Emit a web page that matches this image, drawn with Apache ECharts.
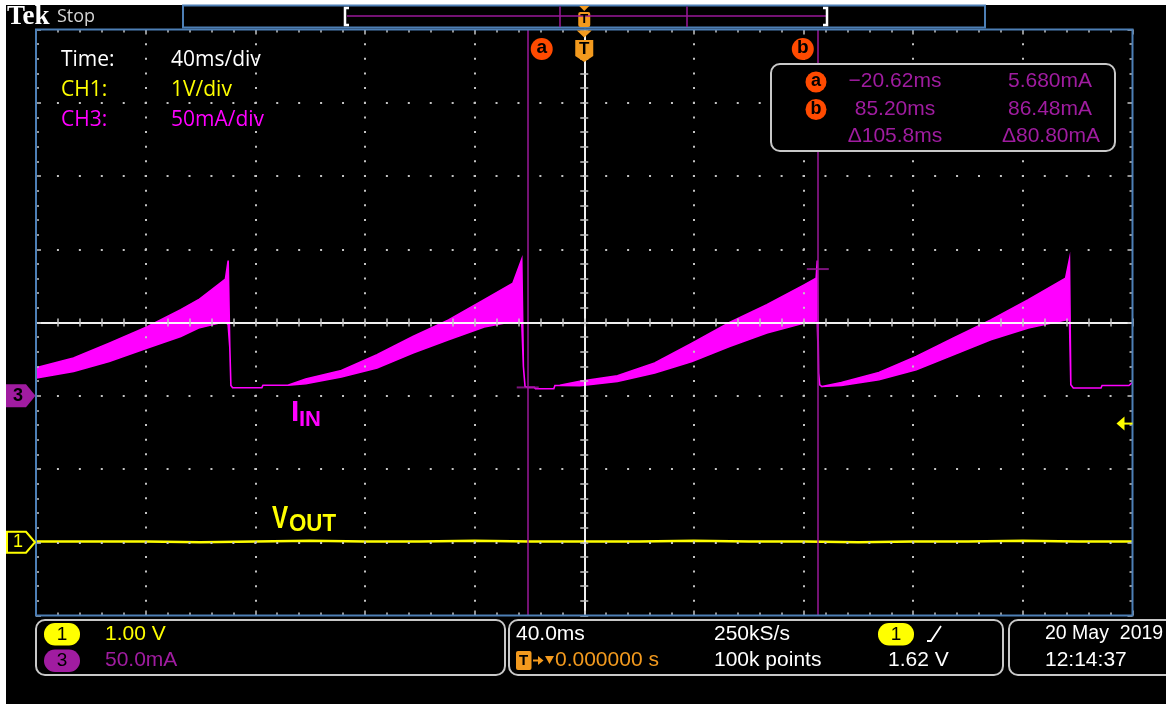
<!DOCTYPE html>
<html><head><meta charset="utf-8">
<script src="https://cdn.jsdelivr.net/npm/echarts@6/dist/echarts.min.js"></script>
<style>html,body{margin:0;padding:0;background:#000;}#c{width:1166px;height:704px;}</style>
</head><body><div id="c"></div>
<script>
// ---------------- data ----------------
// CH3 input current envelope: time (ms), upper / lower edge of the ripple band (mA)
const iinTime  = [-200.0,-186.3,-173.3,-159.6,-147.2,-140.7,-130.9,-129.9,-129.3,-128.9,-128.3,-117.6,-117.2,-108.1,-101.6,-88.6,-75.6,-62.5,-49.5,-36.5,-26.0,-22.8,-22.2,-21.6,-20.6,-18.2,-17.8,-11.1,-10.7,-8.9,-1.6,12.1,25.7,39.3,53.0,66.6,80.2,84.6,85.0,85.5,85.9,86.7,93.8,107.5,121.1,134.7,148.3,162.0,175.6,177.0,177.5,178.4,188.5,188.9,198.7,200.0];
const iinUpper = [19.1,25.7,35.9,46.9,58.7,65.5,79.6,92.3,33.0,7.0,5.5,5.5,7.2,7.2,11.4,17.3,28.0,40.4,51.8,65.5,76.9,93.2,20.0,6.3,5.7,5.7,4.8,4.8,7.0,7.2,9.8,13.6,22.3,35.9,50.0,62.1,75.7,80.3,92.3,15.5,7.5,6.3,9.1,15.9,26.8,39.4,51.8,65.5,80.3,93.2,7.5,5.3,5.3,7.0,7.0,9.1];
const iinLower = [12.1,16.6,23.4,32.5,40.4,46.2,50.7,48.4,33.0,7.0,5.5,5.5,7.2,7.2,8.2,12.8,18.9,29.1,38.2,46.9,50.7,50.5,20.0,6.3,5.7,5.7,4.8,4.8,7.0,7.0,6.8,9.8,15.5,23.4,33.6,42.8,49.6,51.0,51.0,15.5,7.5,6.3,7.0,10.9,17.7,28.0,38.2,46.2,51.8,51.8,7.5,5.3,5.3,7.0,7.0,9.1];
// CH1 output voltage (V)
const voutTime = [-200,-180,-160,-140,-120,-100,-80,-60,-40,-20,0,20,40,60,80,100,120,140,160,180,200];
const vout     = [0.01,0.01,0.01,0.00,0.01,0.02,0.01,0.01,0.02,0.01,0.01,0.01,0.02,0.01,0.01,0.00,0.01,0.01,0.02,0.01,0.01];
// cursors a / b
const cursorTime = [-20.62, 85.20];
const cursorCurrent = [5.680, 86.48];
const cursorNames = ['a', 'b'];
const triggerLevel = 1.62;
// scope settings / readouts
const timePerDiv = 40;       // ms
const ch3PerDiv = 50;        // mA
const ch1PerDiv = 1;         // V
const infoLabels = ['Time:', 'CH1:', 'CH3:'];
const infoValues = ['40ms/div', '1V/div', '50mA/div'];
const statusTexts = {ch1: '1.00 V', ch3: '50.0mA', hor: '40.0ms', pos: '0.000000 s', rate: '250kS/s', rec: '100k points', trig: '1.62 V', date: '20 May  2019', time: '12:14:37'};

// ---------------- styles ----------------
const MAG = '#ff00ff', YEL = '#ffff00', CUR = '#9a189a', ORG = '#f39a1e', PUR = '#a01ca0',
      GRAT = '#c4c4c4', BLUE = '#4d7fb5', RED = '#ff4a00', BOX = '#c8c8c8';
const TEK = "21px 'Liberation Sans', Arial, sans-serif";
const G = {left: 36, right: 33.5, top: 29.5, bottom: 88.5};
const W = 1166, H = 704;
const gw = W - G.left - G.right, gh = H - G.top - G.bottom;
const minorX = gw / 50, minorY = gh / 40;

const chart = echarts.init(document.getElementById('c'), null, {renderer: 'canvas', width: W, height: H});

function xAx(pos, center, split) {
  return {type: 'value', min: -5 * timePerDiv, max: 5 * timePerDiv, interval: timePerDiv, position: pos, z: 5, silent: true,
    axisLine: center ? {show: true, onZero: true, onZeroAxisIndex: 0, lineStyle: {color: '#ffffff', width: 1.5}} : {show: false, onZero: false},
    axisLabel: {show: false},
    axisTick: {show: true, inside: true, length: center ? 4 : 5, lineStyle: {color: GRAT, width: 1.5}},
    minorTick: {show: true, splitNumber: 5, length: center ? 4 : 3, lineStyle: {color: GRAT, width: 1.5}},
    splitLine: split ? {show: true, showMinLine: false, showMaxLine: false, lineStyle: {color: GRAT, width: 2, type: [2, minorY - 2], dashOffset: 1}} : {show: false},
    minorSplitLine: {show: false}};
}
function yAx(pos, center, split) {
  return {type: 'value', min: -4, max: 4, interval: 1, position: pos, z: 5, silent: true,
    axisLine: center ? {show: true, onZero: true, onZeroAxisIndex: 0, lineStyle: {color: '#ffffff', width: 1.5}} : {show: false, onZero: false},
    axisLabel: {show: false},
    axisTick: {show: true, inside: true, length: center ? 4 : 5, lineStyle: {color: GRAT, width: 1.5}},
    minorTick: {show: true, splitNumber: 5, length: center ? 4 : 3, lineStyle: {color: GRAT, width: 1.5}},
    splitLine: split ? {show: true, showMinLine: false, showMaxLine: false, lineStyle: {color: GRAT, width: 2, type: [2, minorX - 2], dashOffset: 1}} : {show: false},
    minorSplitLine: {show: false}};
}

const option = {
  backgroundColor: '#000',
  animation: false,
  grid: {left: G.left, right: G.right, top: G.top, bottom: G.bottom, show: true, borderColor: BLUE, borderWidth: 2,
         backgroundColor: 'transparent', z: 6, containLabel: false, outerBoundsMode: 'none'},
  xAxis: [xAx('bottom', false, true), xAx('top', false, false), xAx('bottom', true, false), xAx('top', true, false)],
  yAxis: [
    yAx('left', false, true),
    {type: 'value', min: -3 * ch3PerDiv, max: 5 * ch3PerDiv, interval: ch3PerDiv, show: false, axisLine: {onZero: false}},
    {type: 'value', min: -1 * ch1PerDiv, max: 7 * ch1PerDiv, interval: ch1PerDiv, show: false, axisLine: {onZero: false}},
    yAx('right', false, false), yAx('left', true, false), yAx('right', true, false)
  ],
  series: [
    {name: 'IIN', type: 'custom', xAxisIndex: 0, yAxisIndex: 1, z: 2, silent: true,
     data: iinTime.map((t, i) => [t, iinUpper[i], iinLower[i]]),
     encode: {x: 0, y: [1, 2]},
     renderItem: function (params, api) {
       if (params.dataIndex !== 0) return null;
       const pts = [];
       for (let i = 0; i < iinTime.length; i++) pts.push(api.coord([iinTime[i], iinUpper[i]]));
       for (let i = iinTime.length - 1; i >= 0; i--) pts.push(api.coord([iinTime[i], iinLower[i]]));
       return {type: 'polygon', shape: {points: pts}, style: {fill: MAG, stroke: MAG, lineWidth: 1.6}};
     }},
    {name: 'VOUT', type: 'line', xAxisIndex: 0, yAxisIndex: 2, z: 3, silent: true, symbol: 'none',
     data: voutTime.map((t, i) => [t, vout[i]]), lineStyle: {color: YEL, width: 2.5}},
    {name: 'cursors', type: 'scatter', xAxisIndex: 0, yAxisIndex: 1, z: 7, silent: true,
     data: cursorTime.map((t, i) => [t, cursorCurrent[i]]),
     symbol: 'rect', symbolSize: [22, 2], itemStyle: {color: CUR},
     markLine: {silent: true, symbol: 'none', animation: false, label: {show: false},
       lineStyle: {color: CUR, width: 1.5, type: 'solid'},
       data: cursorTime.map(t => ({xAxis: t}))}}
  ]
};
chart.setOption(option);

// ---------------- screen furniture (positions from the library's scales) ----------------
const px = v => chart.convertToPixel({xAxisIndex: 0}, v);
const pyI = v => chart.convertToPixel({yAxisIndex: 1}, v);
const pyV = v => chart.convertToPixel({yAxisIndex: 2}, v);
const fmt = v => v.toPrecision(4).replace('-', '\u2212');

const gfx = [];
function txt(x, y, text, fill, font, align, extra) {
  gfx.push(Object.assign({type: 'text', x: x, y: y, z: 100, silent: true,
    style: {text: text, fill: fill, font: font || TEK, textAlign: align || 'left', textVerticalAlign: 'middle'}}, extra || {}));
}
function rect(x, y, w, h, r, fill, stroke, lw) {
  gfx.push({type: 'rect', z: 99, silent: true, shape: {x: x, y: y, width: w, height: h, r: r || 0},
    style: {fill: fill || 'none', stroke: stroke || null, lineWidth: lw || 0}});
}
function poly(points, fill, stroke, lw, closed) {
  gfx.push({type: closed === false ? 'polyline' : 'polygon', z: 100, silent: true, shape: {points: points},
    style: {fill: closed === false ? null : (fill || null), stroke: stroke || null, lineWidth: lw || 0}});
}

// white margins of the screenshot
rect(0, 0, W, 5, 0, '#ffffff');
rect(0, 0, 6, H, 0, '#ffffff');

// Tek Stop
txt(7, 17, 'Tek', '#ffffff', "bold 27px 'Liberation Serif', serif");
txt(57, 17, 'Stop', '#d4d4d4', "18px 'Open Sans', sans-serif");

// record view header
rect(183, 5.5, 802, 22, 0, '#000', BLUE, 2);
gfx.push({type: 'line', z: 100, silent: true, shape: {x1: 347, y1: 16, x2: 826, y2: 16}, style: {stroke: CUR, lineWidth: 1.5}});
gfx.push({type: 'line', z: 100, silent: true, shape: {x1: 560, y1: 6.5, x2: 560, y2: 27}, style: {stroke: CUR, lineWidth: 1.5}});
gfx.push({type: 'line', z: 100, silent: true, shape: {x1: 687, y1: 6.5, x2: 687, y2: 27}, style: {stroke: CUR, lineWidth: 1.5}});
poly([[349, 8], [345, 8], [345, 25], [349, 25]], null, '#ffffff', 2.5, false);
poly([[823, 8], [827, 8], [827, 25], [823, 25]], null, '#ffffff', 2.5, false);
const x0 = px(0);
poly([[x0 - 5, 6], [x0 + 5, 6], [x0, 11]], ORG);
rect(x0 - 6, 12, 12, 15, 2, ORG);
txt(x0, 19.5, 'T', '#000', "bold 13px 'Liberation Sans', sans-serif", 'center');

// trigger position marker
poly([[x0 - 7.5, 30.5], [x0 + 7.5, 30.5], [x0, 37.5]], ORG);
poly([[x0 - 9, 40], [x0 + 9, 40], [x0 + 9, 56], [x0, 62], [x0 - 9, 56]], ORG);
txt(x0, 49, 'T', '#000', "bold 17px 'Liberation Sans', sans-serif", 'center');

// cursor labels
const labOff = [14, -15];
cursorTime.forEach((t, i) => {
  const cx = px(t) + labOff[i];
  gfx.push({type: 'circle', z: 100, silent: true, shape: {cx: cx, cy: 49, r: 11}, style: {fill: RED}});
  txt(cx, 48, cursorNames[i], '#000', "bold 19px 'Liberation Sans', sans-serif", 'center');
});

// annotation texts
const infoColors = ['#ffffff', YEL, MAG];
infoLabels.forEach((l, i) => {
  txt(61, 60 + i * 30, l, infoColors[i], "21px 'Open Sans', sans-serif");
  txt(171, 60 + i * 30, infoValues[i], infoColors[i], "21px 'Open Sans', sans-serif");
});

// cursor readout box
rect(771, 64, 344, 87, 9, '#000', BOX, 2);
const rowY = [81.5, 109, 136.5];
cursorTime.forEach((t, i) => {
  gfx.push({type: 'circle', z: 100, silent: true, shape: {cx: 816, cy: rowY[i] + 0.5, r: 10.5}, style: {fill: RED}});
  txt(816, rowY[i], cursorNames[i], '#000', "bold 18px 'Liberation Sans', sans-serif", 'center');
  txt(895, rowY[i], fmt(t) + 'ms', PUR, TEK, 'center');
  txt(1050, rowY[i], fmt(cursorCurrent[i]) + 'mA', PUR, TEK, 'center');
});
txt(895, rowY[2], '\u0394' + fmt(cursorTime[1] - cursorTime[0]) + 'ms', PUR, TEK, 'center');
txt(1051, rowY[2], '\u0394' + fmt(cursorCurrent[1] - cursorCurrent[0]) + 'mA', PUR, TEK, 'center');

// trace labels
txt(291, 413, 'I', MAG, "bold 30px 'Liberation Sans', sans-serif");
txt(299, 420, 'IN', MAG, "bold 22px 'Liberation Sans', sans-serif");
txt(272, 519, 'V', YEL, "bold 31px 'Liberation Sans', sans-serif", 'left', {scaleX: 0.78});
txt(289, 524, 'OUT', YEL, "bold 24px 'Liberation Sans', sans-serif", 'left', {scaleX: 0.93});

// channel ground markers
const y3 = pyI(0), y1 = pyV(0);
poly([[6, y3 - 11.5], [26, y3 - 11.5], [35.5, y3], [26, y3 + 11.5], [6, y3 + 11.5]], PUR);
txt(18, y3, '3', '#000', "bold 18px 'Liberation Sans', sans-serif", 'center');
poly([[7, y1 - 10.5], [26, y1 - 10.5], [35, y1], [26, y1 + 10.5], [7, y1 + 10.5]], '#000', YEL, 2);
txt(18, y1, '1', YEL, "18px 'Liberation Sans', sans-serif", 'center');

// trigger level arrow
const yt = pyV(triggerLevel);
const xr = px(5 * timePerDiv);
poly([[xr - 16, yt], [xr - 8, yt - 7], [xr - 8, yt + 7]], YEL);
gfx.push({type: 'line', z: 100, silent: true, shape: {x1: xr - 9, y1: yt, x2: xr, y2: yt}, style: {stroke: YEL, lineWidth: 2}});

// status bar
rect(36, 620, 469, 55, 9, '#000', BOX, 2);
rect(509, 620, 494, 55, 9, '#000', BOX, 2);
rect(1009, 620, 175, 55, 9, '#000', BOX, 2);
rect(44, 623, 36, 22.5, 11, YEL);
txt(62, 634.5, '1', '#000', "19px 'Liberation Sans', sans-serif", 'center');
rect(44, 649.5, 36, 22.5, 11, PUR);
txt(62, 661, '3', '#000', "19px 'Liberation Sans', sans-serif", 'center');
txt(105, 634, statusTexts.ch1, YEL);
txt(105, 660.5, statusTexts.ch3, PUR);
txt(516, 634, statusTexts.hor, '#ffffff');
rect(516, 651, 15.5, 19, 2, ORG);
txt(523.7, 661, 'T', '#000', "bold 15px 'Liberation Sans', sans-serif", 'center');
gfx.push({type: 'line', z: 100, silent: true, shape: {x1: 533, y1: 660.5, x2: 539, y2: 660.5}, style: {stroke: ORG, lineWidth: 2}});
poly([[538, 656], [543.5, 660.5], [538, 665]], ORG);
poly([[545, 656], [554, 656], [549.5, 664]], ORG);
txt(555, 660.5, statusTexts.pos, ORG);
txt(714, 634, statusTexts.rate, '#ffffff');
txt(714, 660.5, statusTexts.rec, '#ffffff');
rect(878, 623, 36, 22.5, 11, YEL);
txt(896, 634.5, '1', '#000', "19px 'Liberation Sans', sans-serif", 'center');
poly([[927, 641], [931, 641], [941, 626]], null, '#ffffff', 1.8, false);
txt(888, 660.5, statusTexts.trig, '#ffffff');
txt(1045, 634, statusTexts.date, '#ffffff', "19.5px 'Liberation Sans', Arial, sans-serif");
txt(1045, 660.5, statusTexts.time, '#ffffff');

chart.setOption({graphic: {elements: gfx}});
</script>
</body></html>
